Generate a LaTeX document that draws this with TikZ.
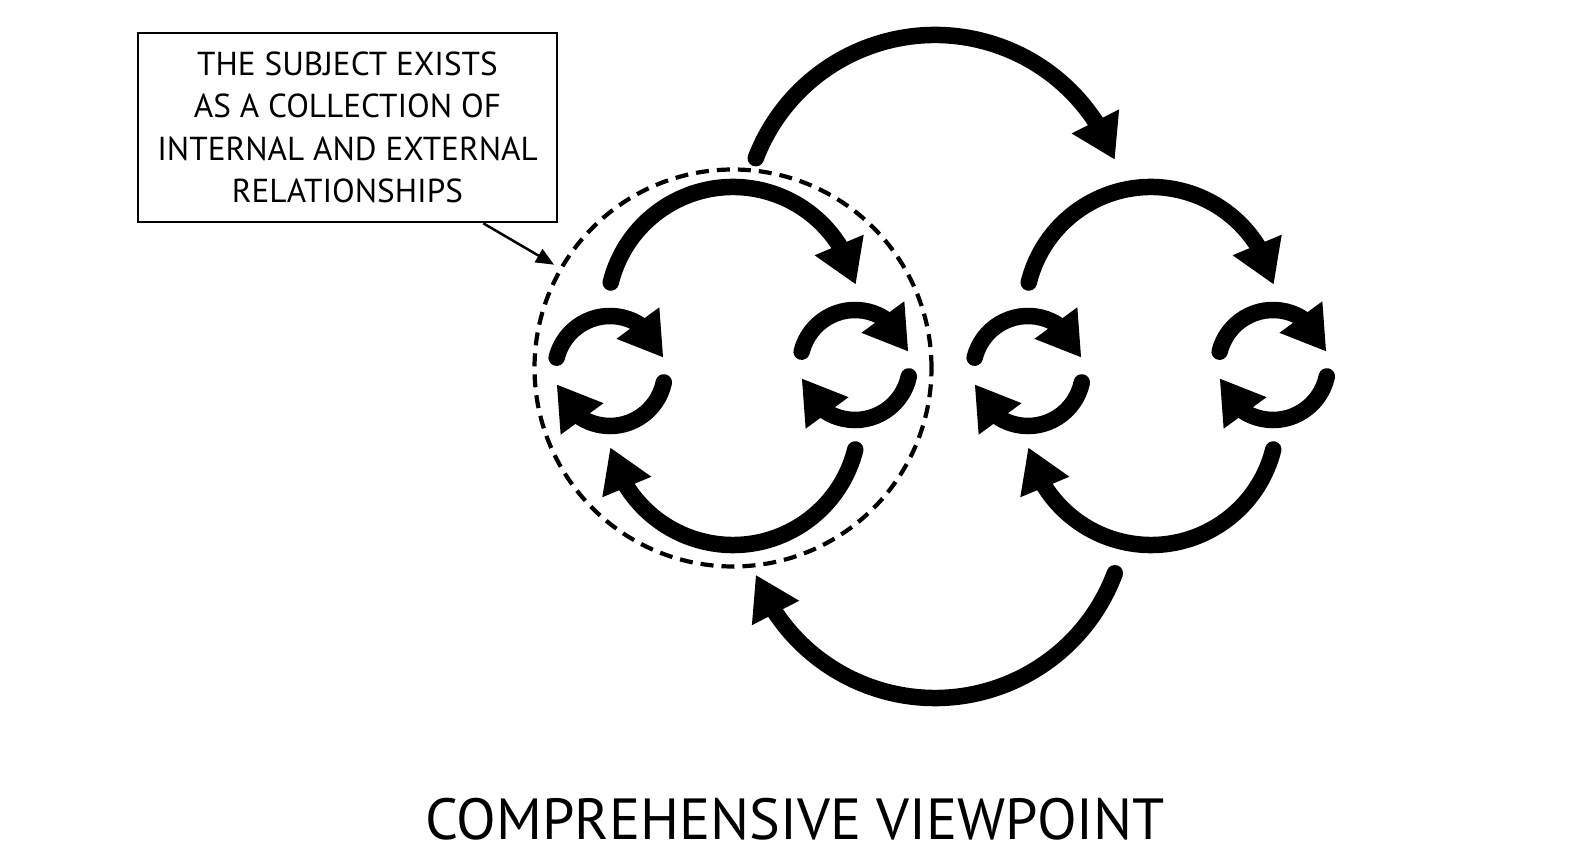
\documentclass[tikz,border=0pt]{standalone}
\usepackage{fontspec}
\setmainfont{PT Sans}
\usetikzlibrary{positioning,arrows.meta,bending,calc}

\begin{document}
\begin{tikzpicture}[
  x=0.1mm, y=0.1mm,
  loopline/.style={line width=1.65mm, line cap=round,
                   -{Triangle[length=4.3mm,width=5mm,flex]}},
  dashring/.style={draw, circle, line width=0.42mm, dash pattern=on 1.3mm off 0.8mm,
                   minimum size=39.7mm, inner sep=0pt},
  notebox/.style={draw, line width=0.27mm, minimum width=41.9mm, minimum height=18.9mm,
                  inner sep=0pt, align=center, font=\fontsize{9.45}{12.1}\selectfont},
  callout/.style={line width=0.25mm, -{Triangle[length=1.8mm,width=1.5mm]}},
  headline/.style={font=\fontsize{16.5}{20}\selectfont},
]
\useasboundingbox (0,0) rectangle (1588,868);

%====================== TWO SUBJECTS ======================
\coordinate (subj) at (733,502);
\coordinate (nbr)  at (1151,502);

\foreach \c in {subj,nbr}{
  % big loop
  \draw[loopline, shift={($(\c)+(0,53)$)}]  (166:12.6mm) arc[start angle=166, end angle=13, radius=12.6mm];
  \draw[loopline, shift={($(\c)+(0,-53)$)}] (-14:12.6mm) arc[start angle=-14, end angle=-167, radius=12.6mm];
  % small loops
  \draw[loopline, shift={($(\c)+(-123,-5)$)}] (166:5.5mm) arc[start angle=166, end angle=14, radius=5.5mm];
  \draw[loopline, shift={($(\c)+(-123,-5)$)}] (-12:5.5mm) arc[start angle=-12, end angle=-166, radius=5.5mm];
  \draw[loopline, shift={($(\c)+(122,1)$)}]   (166:5.5mm) arc[start angle=166, end angle=14, radius=5.5mm];
  \draw[loopline, shift={($(\c)+(122,1)$)}]   (-12:5.5mm) arc[start angle=-12, end angle=-166, radius=5.5mm];
}

%====================== BETWEEN SUBJECTS ======================
\draw[loopline, shift={(935,641)}] (159:19.2mm) arc[start angle=159, end angle=20.5, radius=19.2mm];
\draw[loopline, shift={(935,362)}] (-20.5:19.2mm) arc[start angle=-20.5, end angle=-159, radius=19.2mm];

%====================== CALLOUT ======================
\node[dashring] (ring) at (733,500) {};
\node[notebox] (note) at (347.5,740.5) {THE SUBJECT EXISTS\\ AS A COLLECTION OF\\ INTERNAL AND EXTERNAL\\ RELATIONSHIPS};
\draw[callout] ([xshift=-7.5mm]note.south east) -- ($(ring.center)!1.03!(ring.150)$);

\node[headline] (title) at (795,49) {COMPREHENSIVE VIEWPOINT};
\end{tikzpicture}
\end{document}
